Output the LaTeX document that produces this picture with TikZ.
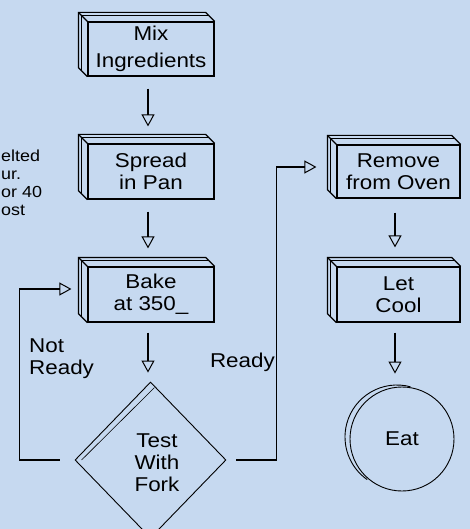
\documentclass[tikz,border=0pt]{standalone}
\usepackage{fontspec}
\setmainfont[FakeStretch=1.12]{Liberation Sans}
\usetikzlibrary{shapes.geometric, positioning, arrows.meta, calc}
\definecolor{bgblue}{RGB}{198,217,240}
\tikzset{
  stepbox/.style={rectangle, minimum width=126pt, minimum height=55pt, inner sep=0pt, text centered, align=center, draw=black, line width=1.2pt},
  decision/.style={diamond, minimum width=151pt, minimum height=156pt, inner sep=0pt, draw=black, line width=0.9pt},
  terminal/.style={circle, minimum size=104pt, inner sep=0pt, draw=black, line width=0.9pt},
  arrow/.style={line width=1.1pt, -{Triangle[open, length=12pt, width=13pt, line width=1pt]}}
}
\newcommand{\boxdepth}[1]{%
  \draw[line width=1.2pt] (#1.south west) -- ++(-9,9) -- ($(#1.north west)+(-9,9)$) -- ($(#1.north east)+(-9,9)$) -- (#1.north east);
  \draw[line width=1.2pt] (#1.north west) -- ++(-9,9);
  \draw[line width=0.6pt] ($(#1.south west)+(-6,6)$) -- ($(#1.north west)+(-6,6)$) -- ($(#1.north east)+(-6,6)$);
}

\begin{document}
\begin{tikzpicture}[x=1pt, y=1pt, every node/.style={font=\fontsize{20}{22}\selectfont}]
        \fill[bgblue] (0,0) rectangle (470,-529);
        \useasboundingbox (0,0) rectangle (470,-529);
        \clip (0,0) rectangle (470,-529);

        \node (mix) [stepbox, minimum height=54pt] at (151,-49) {Mix\\[5pt]Ingredients};
        \node (spread) [stepbox] at (151,-171.5) {Spread\\in Pan};
        \node (bake) [stepbox] at (151,-294.5) {Bake\\at 350\_};
        \node (test) [decision] at (150.5,-460) {};
        \node (testtext) at (157,-463) [align=center] {Test\\With\\Fork};
        \node (remove) [stepbox, minimum width=123pt, minimum height=53pt] at (398.5,-171.5) {Remove\\from Oven};
        \node (cool) [stepbox, minimum width=123pt] at (398.5,-294.5) {Let\\Cool};
        \node (eat) [terminal] at (402,-439) {Eat};

        \boxdepth{mix}
        \boxdepth{spread}
        \boxdepth{bake}
        \boxdepth{remove}
        \boxdepth{cool}
        \draw[line width=0.6pt] ($(test.north)+(4,-6)$) -- ($(test.west)+(7,0)$);
        \draw[line width=0.9pt] ($(eat.center)+(-5,2)$) ++(75:52) arc[start angle=75, end angle=235, radius=52];

        \node (note) [anchor=north west, align=left, inner sep=0pt, font=\fontsize{16}{18}\selectfont] at (1,-150) {elted\\ur.\\or 40\\ost};

        \draw [arrow, shorten <=12pt, shorten >=17pt] ([xshift=-3pt]mix.south) -- ([xshift=-3pt]spread.north);
        \draw [arrow, shorten <=12pt, shorten >=18pt] ([xshift=-3pt]spread.south) -- ([xshift=-3pt]bake.north);
        \draw [arrow, shorten <=10pt, shorten >=9pt] ([xshift=-3pt]bake.south) -- ([xshift=-2.5pt]test.north);
        \draw [arrow, shorten <=15pt, shorten >=16pt] (test.west) -- ++(-55,0) |- ([yshift=5.5pt]bake.west);
        \draw [arrow, shorten <=10pt, shorten >=20pt] (test.east) -- ++(50,0) |- ([yshift=4.5pt]remove.west);
        \draw [arrow, shorten <=14pt, shorten >=19pt] ([xshift=-3.5pt]remove.south) -- ([xshift=-3.5pt]cool.north);
        \draw [arrow, shorten <=10pt, shorten >=13pt] ([xshift=-3.5pt]cool.south) -- ([xshift=-7pt]eat.north);

        \node (notready) [anchor=north west, align=left, inner sep=0pt] at (29,-339) {Not\\Ready};
        \node (ready) [anchor=base east, inner sep=0pt] at (275,-367) {Ready};
    \end{tikzpicture}
\end{document}
